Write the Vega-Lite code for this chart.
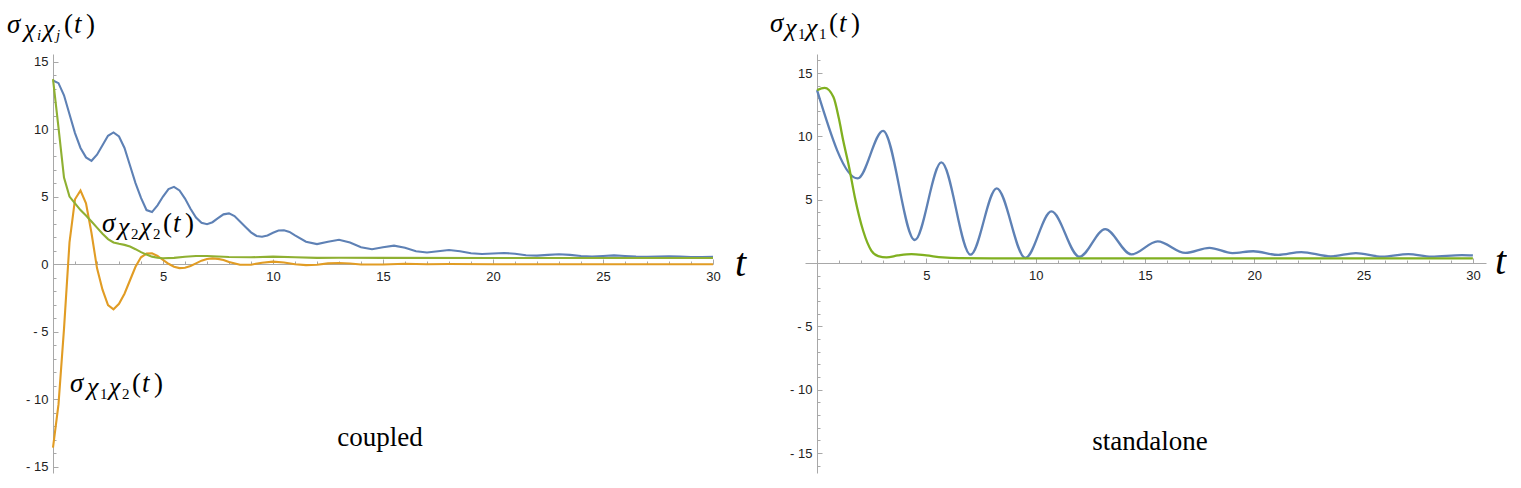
{
  "$schema": "https://vega.github.io/schema/vega-lite/v6.json",
  "autosize": {"type": "pad"},
  "padding": {"left": 7, "top": 9, "right": 0, "bottom": 0},
  "spacing": 92,
  "bounds": "flush",
  "background": "white",
  "config": {
    "view": {"stroke": null},
    "axis": {"grid": false, "domainColor": "#a8a8a8", "tickColor": "#a8a8a8", "labelColor": "#222222", "labelFont": "Liberation Sans", "labelFontSize": 13, "labelFlush": false, "labelOverlap": false, "labelBound": false},
    "text": {"font": "Liberation Serif", "clip": false}
  },
  "datasets": {
    "left": [
      {"t":0,"v":13.6,"s":"c11"},{"t":0.25,"v":13.4,"s":"c11"},{"t":0.5,"v":12.5,"s":"c11"},{"t":0.75,"v":11.1,"s":"c11"},{"t":1,"v":9.7,"s":"c11"},{"t":1.25,"v":8.6,"s":"c11"},{"t":1.5,"v":7.9,"s":"c11"},{"t":1.75,"v":7.65,"s":"c11"},{"t":2,"v":8.1,"s":"c11"},{"t":2.25,"v":8.8,"s":"c11"},{"t":2.5,"v":9.5,"s":"c11"},{"t":2.75,"v":9.75,"s":"c11"},{"t":3,"v":9.45,"s":"c11"},{"t":3.25,"v":8.6,"s":"c11"},{"t":3.5,"v":7.3,"s":"c11"},{"t":3.75,"v":6.0,"s":"c11"},{"t":4,"v":4.9,"s":"c11"},{"t":4.25,"v":4.0,"s":"c11"},{"t":4.5,"v":3.85,"s":"c11"},{"t":4.75,"v":4.35,"s":"c11"},{"t":5,"v":5.0,"s":"c11"},{"t":5.25,"v":5.55,"s":"c11"},{"t":5.5,"v":5.72,"s":"c11"},{"t":5.75,"v":5.45,"s":"c11"},{"t":6,"v":4.85,"s":"c11"},{"t":6.25,"v":4.1,"s":"c11"},{"t":6.5,"v":3.45,"s":"c11"},{"t":6.75,"v":3.05,"s":"c11"},{"t":7,"v":2.95,"s":"c11"},{"t":7.25,"v":3.1,"s":"c11"},{"t":7.5,"v":3.4,"s":"c11"},{"t":7.75,"v":3.68,"s":"c11"},{"t":8,"v":3.75,"s":"c11"},{"t":8.25,"v":3.55,"s":"c11"},{"t":8.5,"v":3.15,"s":"c11"},{"t":8.75,"v":2.75,"s":"c11"},{"t":9,"v":2.35,"s":"c11"},{"t":9.25,"v":2.08,"s":"c11"},{"t":9.5,"v":2.02,"s":"c11"},{"t":9.75,"v":2.12,"s":"c11"},{"t":10,"v":2.32,"s":"c11"},{"t":10.25,"v":2.48,"s":"c11"},{"t":10.5,"v":2.5,"s":"c11"},{"t":10.75,"v":2.38,"s":"c11"},{"t":11,"v":2.12,"s":"c11"},{"t":11.5,"v":1.65,"s":"c11"},{"t":12,"v":1.48,"s":"c11"},{"t":12.5,"v":1.65,"s":"c11"},{"t":13,"v":1.8,"s":"c11"},{"t":13.5,"v":1.6,"s":"c11"},{"t":14,"v":1.25,"s":"c11"},{"t":14.5,"v":1.1,"s":"c11"},{"t":15,"v":1.25,"s":"c11"},{"t":15.5,"v":1.36,"s":"c11"},{"t":16,"v":1.2,"s":"c11"},{"t":16.5,"v":0.95,"s":"c11"},{"t":17,"v":0.86,"s":"c11"},{"t":17.5,"v":0.95,"s":"c11"},{"t":18,"v":1.04,"s":"c11"},{"t":18.5,"v":0.95,"s":"c11"},{"t":19,"v":0.8,"s":"c11"},{"t":19.5,"v":0.74,"s":"c11"},{"t":20,"v":0.78,"s":"c11"},{"t":20.5,"v":0.82,"s":"c11"},{"t":21,"v":0.76,"s":"c11"},{"t":21.5,"v":0.65,"s":"c11"},{"t":22,"v":0.62,"s":"c11"},{"t":22.5,"v":0.68,"s":"c11"},{"t":23,"v":0.73,"s":"c11"},{"t":23.5,"v":0.68,"s":"c11"},{"t":24,"v":0.6,"s":"c11"},{"t":24.5,"v":0.56,"s":"c11"},{"t":25,"v":0.6,"s":"c11"},{"t":25.5,"v":0.64,"s":"c11"},{"t":26,"v":0.6,"s":"c11"},{"t":26.5,"v":0.55,"s":"c11"},{"t":27,"v":0.53,"s":"c11"},{"t":27.5,"v":0.56,"s":"c11"},{"t":28,"v":0.58,"s":"c11"},{"t":28.5,"v":0.55,"s":"c11"},{"t":29,"v":0.52,"s":"c11"},{"t":29.5,"v":0.52,"s":"c11"},{"t":30,"v":0.53,"s":"c11"},
      {"t":0,"v":-13.6,"s":"c12"},{"t":0.25,"v":-10.4,"s":"c12"},{"t":0.5,"v":-4.8,"s":"c12"},{"t":0.75,"v":1.6,"s":"c12"},{"t":1,"v":4.8,"s":"c12"},{"t":1.25,"v":5.45,"s":"c12"},{"t":1.5,"v":4.5,"s":"c12"},{"t":1.75,"v":2.3,"s":"c12"},{"t":2,"v":-0.3,"s":"c12"},{"t":2.25,"v":-1.9,"s":"c12"},{"t":2.5,"v":-3.05,"s":"c12"},{"t":2.75,"v":-3.35,"s":"c12"},{"t":3,"v":-2.95,"s":"c12"},{"t":3.25,"v":-2.2,"s":"c12"},{"t":3.5,"v":-1.2,"s":"c12"},{"t":3.75,"v":-0.2,"s":"c12"},{"t":4,"v":0.5,"s":"c12"},{"t":4.25,"v":0.78,"s":"c12"},{"t":4.5,"v":0.8,"s":"c12"},{"t":4.75,"v":0.6,"s":"c12"},{"t":5,"v":0.3,"s":"c12"},{"t":5.25,"v":0.02,"s":"c12"},{"t":5.5,"v":-0.2,"s":"c12"},{"t":5.75,"v":-0.3,"s":"c12"},{"t":6,"v":-0.28,"s":"c12"},{"t":6.25,"v":-0.15,"s":"c12"},{"t":6.5,"v":0.05,"s":"c12"},{"t":6.75,"v":0.25,"s":"c12"},{"t":7,"v":0.38,"s":"c12"},{"t":7.25,"v":0.42,"s":"c12"},{"t":7.5,"v":0.38,"s":"c12"},{"t":7.75,"v":0.3,"s":"c12"},{"t":8,"v":0.15,"s":"c12"},{"t":8.5,"v":-0.05,"s":"c12"},{"t":9,"v":-0.05,"s":"c12"},{"t":9.5,"v":0.1,"s":"c12"},{"t":10,"v":0.18,"s":"c12"},{"t":10.5,"v":0.12,"s":"c12"},{"t":11,"v":-0.02,"s":"c12"},{"t":11.5,"v":-0.08,"s":"c12"},{"t":12,"v":-0.05,"s":"c12"},{"t":12.5,"v":0.05,"s":"c12"},{"t":13,"v":0.08,"s":"c12"},{"t":13.5,"v":0.04,"s":"c12"},{"t":14,"v":-0.03,"s":"c12"},{"t":15,"v":-0.03,"s":"c12"},{"t":16,"v":0.02,"s":"c12"},{"t":17,"v":-0.02,"s":"c12"},{"t":18,"v":0.0,"s":"c12"},{"t":20,"v":-0.02,"s":"c12"},{"t":25,"v":-0.02,"s":"c12"},{"t":30,"v":-0.02,"s":"c12"},
      {"t":0,"v":13.7,"s":"c22"},{"t":0.25,"v":10.1,"s":"c22"},{"t":0.5,"v":6.4,"s":"c22"},{"t":0.75,"v":5.0,"s":"c22"},{"t":1,"v":4.5,"s":"c22"},{"t":1.25,"v":4.0,"s":"c22"},{"t":1.5,"v":3.6,"s":"c22"},{"t":1.75,"v":3.15,"s":"c22"},{"t":2,"v":2.7,"s":"c22"},{"t":2.25,"v":2.25,"s":"c22"},{"t":2.5,"v":1.85,"s":"c22"},{"t":2.75,"v":1.6,"s":"c22"},{"t":3,"v":1.5,"s":"c22"},{"t":3.25,"v":1.42,"s":"c22"},{"t":3.5,"v":1.3,"s":"c22"},{"t":3.75,"v":1.1,"s":"c22"},{"t":4,"v":0.88,"s":"c22"},{"t":4.25,"v":0.7,"s":"c22"},{"t":4.5,"v":0.55,"s":"c22"},{"t":4.75,"v":0.46,"s":"c22"},{"t":5,"v":0.43,"s":"c22"},{"t":5.5,"v":0.46,"s":"c22"},{"t":6,"v":0.54,"s":"c22"},{"t":6.5,"v":0.6,"s":"c22"},{"t":7,"v":0.6,"s":"c22"},{"t":7.5,"v":0.56,"s":"c22"},{"t":8,"v":0.52,"s":"c22"},{"t":9,"v":0.5,"s":"c22"},{"t":10,"v":0.55,"s":"c22"},{"t":11,"v":0.5,"s":"c22"},{"t":12,"v":0.46,"s":"c22"},{"t":13,"v":0.47,"s":"c22"},{"t":15,"v":0.46,"s":"c22"},{"t":20,"v":0.45,"s":"c22"},{"t":25,"v":0.45,"s":"c22"},{"t":30,"v":0.45,"s":"c22"}
    ],
    "right": [
      {"t":0,"v":13.65,"s":"r1"},{"t":1.86,"v":6.68,"s":"r1"},{"t":3.02,"v":10.44,"s":"r1"},{"t":4.47,"v":1.82,"s":"r1"},{"t":5.69,"v":7.95,"s":"r1"},{"t":7.02,"v":0.66,"s":"r1"},{"t":8.22,"v":5.9,"s":"r1"},{"t":9.53,"v":0.4,"s":"r1"},{"t":10.72,"v":4.08,"s":"r1"},{"t":12.0,"v":0.5,"s":"r1"},{"t":13.18,"v":2.68,"s":"r1"},{"t":14.38,"v":0.68,"s":"r1"},{"t":15.58,"v":1.71,"s":"r1"},{"t":16.85,"v":0.8,"s":"r1"},{"t":17.95,"v":1.2,"s":"r1"},{"t":19.0,"v":0.79,"s":"r1"},{"t":19.95,"v":0.93,"s":"r1"},{"t":21.1,"v":0.64,"s":"r1"},{"t":22.15,"v":0.87,"s":"r1"},{"t":23.5,"v":0.53,"s":"r1"},{"t":24.65,"v":0.79,"s":"r1"},{"t":25.85,"v":0.5,"s":"r1"},{"t":27.05,"v":0.71,"s":"r1"},{"t":28.1,"v":0.5,"s":"r1"},{"t":29.5,"v":0.63,"s":"r1"},{"t":30,"v":0.6,"s":"r1"},
      {"t":0,"v":13.65,"s":"r2"},{"t":0.35,"v":13.82,"s":"r2"},{"t":0.75,"v":13.1,"s":"r2"},{"t":1.0,"v":11.4,"s":"r2"},{"t":1.2,"v":9.65,"s":"r2"},{"t":1.47,"v":7.55,"s":"r2"},{"t":1.73,"v":5.2,"s":"r2"},{"t":2.11,"v":2.55,"s":"r2"},{"t":2.49,"v":0.97,"s":"r2"},{"t":2.8,"v":0.55,"s":"r2"},{"t":3.18,"v":0.45,"s":"r2"},{"t":3.7,"v":0.6,"s":"r2"},{"t":4.32,"v":0.71,"s":"r2"},{"t":5.0,"v":0.6,"s":"r2"},{"t":5.75,"v":0.45,"s":"r2"},{"t":6.5,"v":0.39,"s":"r2"},{"t":8,"v":0.37,"s":"r2"},{"t":30,"v":0.37,"s":"r2"}
    ]
  },
  "hconcat": [
    {
      "width": 660,
      "height": 419,
      "resolve": {"axis": {"x": "independent", "y": "independent"}},
      "layer": [
        {
          "data": {"name": "left"},
          "mark": {"type": "line", "strokeWidth": 2.1},
          "encoding": {
            "x": {"field": "t", "type": "quantitative", "scale": {"domain": [0, 30], "nice": false, "zero": false},
              "axis": {"title": null, "orient": "bottom", "offset": -209, "values": [5,10,15,20,25,30], "ticks": false, "labelPadding": 6, "labelOverlap": false, "labelFlush": false, "labelFontSize": 13}},
            "y": {"field": "v", "type": "quantitative", "scale": {"domain": [-15.48, 15.56], "nice": false, "zero": false},
              "axis": {"title": null, "orient": "left", "values": [-15,-10,-5,0,5,10,15], "ticks": false, "labelPadding": 5, "labelOverlap": false, "labelFlush": false, "labelFontSize": 13,
                "labelExpr": "datum.value < 0 ? '- ' + (-datum.value) : datum.label"}},
            "color": {"field": "s", "type": "nominal", "legend": null,
              "scale": {"domain": ["c11","c12","c22","r1","r2"], "range": ["#5E81B5","#E19C24","#8FB032","#5E81B5","#80B020"]}}
          }
        },
        {
          "data": {"name": "left"},
          "mark": {"type": "line", "strokeOpacity": 0},
          "encoding": {
            "x": {"field": "t", "type": "quantitative", "axis": {"title": null, "orient": "top", "offset": -210, "values": [1,2,3,4,6,7,8,9,11,12,13,14,16,17,18,19,21,22,23,24,26,27,28,29], "labels": false, "domain": false, "tickSize": 3}},
            "y": {"field": "v", "type": "quantitative", "axis": {"title": null, "orient": "right", "offset": -660, "values": [-14,-13,-12,-11,-9,-8,-7,-6,-4,-3,-2,-1,1,2,3,4,6,7,8,9,11,12,13,14], "labels": false, "domain": false, "tickSize": 3}}
          }
        },
        {
          "data": {"name": "left"},
          "mark": {"type": "line", "strokeOpacity": 0},
          "encoding": {
            "x": {"field": "t", "type": "quantitative", "axis": {"title": null, "orient": "top", "offset": -210, "values": [5,10,15,20,25,30], "labels": false, "domain": false, "tickSize": 5}},
            "y": {"field": "v", "type": "quantitative", "axis": {"title": null, "orient": "right", "offset": -660, "values": [-15,-10,-5,5,10,15], "labels": false, "domain": false, "tickSize": 5}}
          }
        },
        {
          "data": {"values": [{"t": -2.09, "v": 17.12}]},
          "encoding": {"x": {"field": "t", "type": "quantitative", "axis": null}, "y": {"field": "v", "type": "quantitative", "axis": null}},
          "layer": [
            {"mark": {"type": "text", "text": "σ", "fontStyle": "italic", "fontSize": 27, "align": "left", "baseline": "alphabetic", "dx": 0}},
            {"mark": {"type": "text", "text": "χ", "fontStyle": "italic", "fontSize": 26, "align": "left", "baseline": "alphabetic", "dx": 17, "dy": 4}},
            {"mark": {"type": "text", "text": "i", "fontStyle": "italic", "fontSize": 15, "align": "left", "baseline": "alphabetic", "dx": 30, "dy": 7}},
            {"mark": {"type": "text", "text": "χ", "fontStyle": "italic", "fontSize": 26, "align": "left", "baseline": "alphabetic", "dx": 36, "dy": 4}},
            {"mark": {"type": "text", "text": "j", "fontStyle": "italic", "fontSize": 15, "align": "left", "baseline": "alphabetic", "dx": 49, "dy": 7}},
            {"mark": {"type": "text", "text": "(", "fontSize": 27, "align": "left", "baseline": "alphabetic", "dx": 57}},
            {"mark": {"type": "text", "text": "t", "fontStyle": "italic", "fontSize": 27, "align": "left", "baseline": "alphabetic", "dx": 67}},
            {"mark": {"type": "text", "text": ")", "fontSize": 27, "align": "left", "baseline": "alphabetic", "dx": 79}}
          ]
        },
        {
          "data": {"values": [{"t": 2.227, "v": 2.37}]},
          "encoding": {"x": {"field": "t", "type": "quantitative", "axis": null}, "y": {"field": "v", "type": "quantitative", "axis": null}},
          "layer": [
            {"mark": {"type": "text", "text": "σ", "fontStyle": "italic", "fontSize": 27, "align": "left", "baseline": "alphabetic", "dx": 0}},
            {"mark": {"type": "text", "text": "χ", "fontStyle": "italic", "fontSize": 26, "align": "left", "baseline": "alphabetic", "dx": 16, "dy": 3}},
            {"mark": {"type": "text", "text": "2", "fontSize": 15, "align": "left", "baseline": "alphabetic", "dx": 29, "dy": 7}},
            {"mark": {"type": "text", "text": "χ", "fontStyle": "italic", "fontSize": 26, "align": "left", "baseline": "alphabetic", "dx": 38, "dy": 3}},
            {"mark": {"type": "text", "text": "2", "fontSize": 15, "align": "left", "baseline": "alphabetic", "dx": 51, "dy": 7}},
            {"mark": {"type": "text", "text": "(", "fontSize": 27, "align": "left", "baseline": "alphabetic", "dx": 61}},
            {"mark": {"type": "text", "text": "t", "fontStyle": "italic", "fontSize": 27, "align": "left", "baseline": "alphabetic", "dx": 71}},
            {"mark": {"type": "text", "text": ")", "fontSize": 27, "align": "left", "baseline": "alphabetic", "dx": 83}}
          ]
        },
        {
          "data": {"values": [{"t": 0.773, "v": -9.48}]},
          "encoding": {"x": {"field": "t", "type": "quantitative", "axis": null}, "y": {"field": "v", "type": "quantitative", "axis": null}},
          "layer": [
            {"mark": {"type": "text", "text": "σ", "fontStyle": "italic", "fontSize": 27, "align": "left", "baseline": "alphabetic", "dx": 0}},
            {"mark": {"type": "text", "text": "χ", "fontStyle": "italic", "fontSize": 26, "align": "left", "baseline": "alphabetic", "dx": 17, "dy": 3}},
            {"mark": {"type": "text", "text": "1", "fontSize": 15, "align": "left", "baseline": "alphabetic", "dx": 30, "dy": 7}},
            {"mark": {"type": "text", "text": "χ", "fontStyle": "italic", "fontSize": 26, "align": "left", "baseline": "alphabetic", "dx": 39, "dy": 3}},
            {"mark": {"type": "text", "text": "2", "fontSize": 15, "align": "left", "baseline": "alphabetic", "dx": 52, "dy": 7}},
            {"mark": {"type": "text", "text": "(", "fontSize": 27, "align": "left", "baseline": "alphabetic", "dx": 62}},
            {"mark": {"type": "text", "text": "t", "fontStyle": "italic", "fontSize": 27, "align": "left", "baseline": "alphabetic", "dx": 72}},
            {"mark": {"type": "text", "text": ")", "fontSize": 27, "align": "left", "baseline": "alphabetic", "dx": 84}}
          ]
        },
        {
          "data": {"values": [{"t": 14.86, "v": -13.48}]},
          "mark": {"type": "text", "text": "coupled", "fontSize": 27, "align": "center", "baseline": "alphabetic"},
          "encoding": {"x": {"field": "t", "type": "quantitative", "axis": null}, "y": {"field": "v", "type": "quantitative", "axis": null}}
        },
        {
          "data": {"values": [{"t": 31.0, "v": -0.88}]},
          "mark": {"type": "text", "text": "t", "fontStyle": "italic", "fontSize": 40, "align": "left", "baseline": "alphabetic"},
          "encoding": {"x": {"field": "t", "type": "quantitative", "axis": null}, "y": {"field": "v", "type": "quantitative", "axis": null}}
        }
      ]
    },
    {
      "width": 681,
      "height": 419,
      "resolve": {"axis": {"x": "independent", "y": "independent"}},
      "layer": [
        {
          "data": {"name": "right"},
          "mark": {"type": "line", "strokeWidth": 2.3, "interpolate": "monotone"},
          "encoding": {
            "x": {"field": "t", "type": "quantitative", "scale": {"domain": [-0.55, 30.6], "nice": false, "zero": false},
              "axis": {"title": null, "orient": "bottom", "offset": -210, "values": [5,10,15,20,25,30], "ticks": false, "labelPadding": 6, "labelOverlap": false, "labelFlush": false, "labelFontSize": 13}},
            "y": {"field": "v", "type": "quantitative", "scale": {"domain": [-16.57, 16.5], "nice": false, "zero": false},
              "axis": {"title": null, "orient": "left", "offset": -12, "values": [-15,-10,-5,5,10,15], "ticks": false, "labelPadding": 5, "labelOverlap": false, "labelFlush": false, "labelFontSize": 13,
                "labelExpr": "datum.value < 0 ? '- ' + (-datum.value) : datum.label"}},
            "color": {"field": "s", "type": "nominal", "legend": null,
              "scale": {"domain": ["c11","c12","c22","r1","r2"], "range": ["#5E81B5","#E19C24","#8FB032","#5E81B5","#80B020"]}}
          }
        },
        {
          "data": {"name": "right"},
          "mark": {"type": "line", "strokeOpacity": 0},
          "encoding": {
            "x": {"field": "t", "type": "quantitative", "axis": {"title": null, "orient": "top", "offset": -209, "values": [1,2,3,4,6,7,8,9,11,12,13,14,16,17,18,19,21,22,23,24,26,27,28,29], "labels": false, "domain": false, "tickSize": 3}},
            "y": {"field": "v", "type": "quantitative", "axis": {"title": null, "orient": "right", "offset": -669, "values": [-16,-14,-13,-12,-11,-9,-8,-7,-6,-4,-3,-2,-1,1,2,3,4,6,7,8,9,11,12,13,14,16], "labels": false, "domain": false, "tickSize": 3}}
          }
        },
        {
          "data": {"name": "right"},
          "mark": {"type": "line", "strokeOpacity": 0},
          "encoding": {
            "x": {"field": "t", "type": "quantitative", "axis": {"title": null, "orient": "top", "offset": -209, "values": [5,10,15,20,25,30], "labels": false, "domain": false, "tickSize": 5}},
            "y": {"field": "v", "type": "quantitative", "axis": {"title": null, "orient": "right", "offset": -669, "values": [-15,-10,-5,5,10,15], "labels": false, "domain": false, "tickSize": 5}}
          }
        },
        {
          "data": {"values": [{"t": -2.15, "v": 18.24}]},
          "encoding": {"x": {"field": "t", "type": "quantitative", "axis": null}, "y": {"field": "v", "type": "quantitative", "axis": null}},
          "layer": [
            {"mark": {"type": "text", "text": "σ", "fontStyle": "italic", "fontSize": 27, "align": "left", "baseline": "alphabetic", "dx": 0}},
            {"mark": {"type": "text", "text": "χ", "fontStyle": "italic", "fontSize": 26, "align": "left", "baseline": "alphabetic", "dx": 15, "dy": 4}},
            {"mark": {"type": "text", "text": "1", "fontSize": 15, "align": "left", "baseline": "alphabetic", "dx": 28, "dy": 7}},
            {"mark": {"type": "text", "text": "χ", "fontStyle": "italic", "fontSize": 26, "align": "left", "baseline": "alphabetic", "dx": 36, "dy": 4}},
            {"mark": {"type": "text", "text": "1", "fontSize": 15, "align": "left", "baseline": "alphabetic", "dx": 49, "dy": 7}},
            {"mark": {"type": "text", "text": "(", "fontSize": 27, "align": "left", "baseline": "alphabetic", "dx": 59}},
            {"mark": {"type": "text", "text": "t", "fontStyle": "italic", "fontSize": 27, "align": "left", "baseline": "alphabetic", "dx": 69}},
            {"mark": {"type": "text", "text": ")", "fontSize": 27, "align": "left", "baseline": "alphabetic", "dx": 81}}
          ]
        },
        {
          "data": {"values": [{"t": 15.23, "v": -14.75}]},
          "mark": {"type": "text", "text": "standalone", "fontSize": 27, "align": "center", "baseline": "alphabetic"},
          "encoding": {"x": {"field": "t", "type": "quantitative", "axis": null}, "y": {"field": "v", "type": "quantitative", "axis": null}}
        },
        {
          "data": {"values": [{"t": 31.01, "v": -0.86}]},
          "mark": {"type": "text", "text": "t", "fontStyle": "italic", "fontSize": 40, "align": "left", "baseline": "alphabetic"},
          "encoding": {"x": {"field": "t", "type": "quantitative", "axis": null}, "y": {"field": "v", "type": "quantitative", "axis": null}}
        }
      ]
    }
  ]
}
